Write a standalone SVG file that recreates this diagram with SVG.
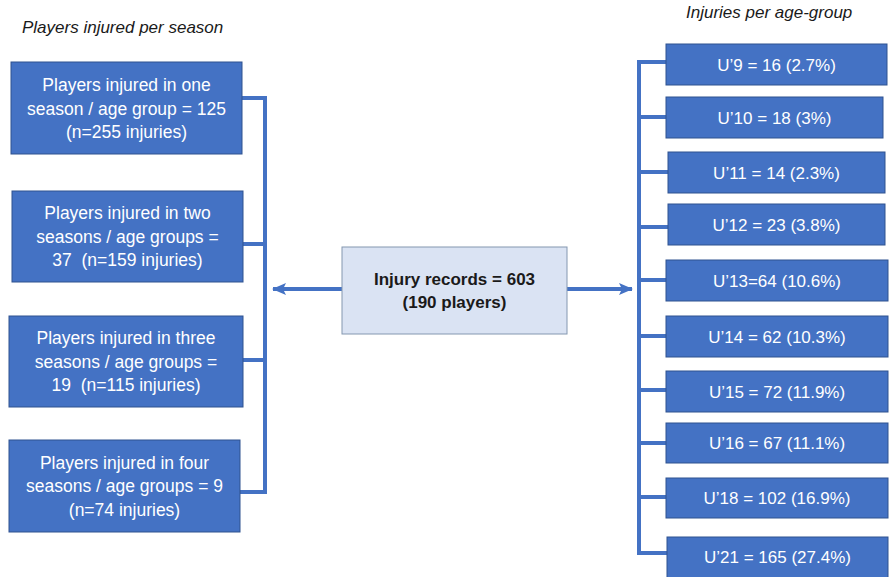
<svg xmlns="http://www.w3.org/2000/svg" width="894" height="577" viewBox="0 0 894 577">
<style>
.box{fill:#4472c4;stroke:#2f528f;stroke-width:1}
.bt{font-family:"Liberation Sans",Arial,sans-serif;font-size:17.5px;fill:#ffffff;text-anchor:middle}
.rt{font-family:"Liberation Sans",Arial,sans-serif;font-size:17px;fill:#ffffff;text-anchor:middle}
.ttl{font-family:"Liberation Sans",Arial,sans-serif;font-size:17px;font-style:italic;fill:#1a1a1a}
.ln{stroke:#4472c4;stroke-width:4;fill:none}
.ct{font-family:"Liberation Sans",Arial,sans-serif;font-size:17px;font-weight:bold;fill:#1a1a1a;text-anchor:middle}
</style>
<defs>
<marker id="ah" markerUnits="userSpaceOnUse" markerWidth="14" markerHeight="14" viewBox="0 0 14 14" refX="13" refY="7" orient="auto">
<path d="M0,1 L14,7 L0,13 L3,7 Z" fill="#4472c4"/>
</marker>
</defs>
<rect width="894" height="577" fill="#ffffff"/>
<text class="ttl" x="22" y="33">Players injured per season</text>
<text class="ttl" x="686" y="18">Injuries per age-group</text>
<g id="connectors">
<polyline class="ln" points="242,98 265,98 265,492 240,492"/>
<line class="ln" x1="243" y1="244" x2="265" y2="244"/>
<line class="ln" x1="243" y1="360" x2="265" y2="360"/>
<polyline class="ln" points="666,62 639,62 639,553 667,553"/>
<line class="ln" x1="639" y1="117" x2="666" y2="117"/>
<line class="ln" x1="639" y1="172" x2="668" y2="172"/>
<line class="ln" x1="639" y1="227" x2="668" y2="227"/>
<line class="ln" x1="639" y1="280" x2="666" y2="280"/>
<line class="ln" x1="639" y1="336" x2="666" y2="336"/>
<line class="ln" x1="639" y1="390" x2="666" y2="390"/>
<line class="ln" x1="639" y1="443" x2="666" y2="443"/>
<line class="ln" x1="639" y1="497" x2="666" y2="497"/>
<line class="ln" x1="342" y1="289" x2="273" y2="289" marker-end="url(#ah)"/>
<line class="ln" x1="567" y1="289" x2="632" y2="289" marker-end="url(#ah)"/>
</g>
<g id="center">
<rect x="342" y="247" width="225" height="87" fill="#dae3f3" stroke="#8497b0" stroke-width="1"/>
<text class="ct" x="454.5" y="285">Injury records = 603</text>
<text class="ct" x="454.5" y="308">(190 players)</text>
</g>
<g id="left1">
<rect class="box" x="11" y="62" width="231" height="92"/>
<text class="bt" x="126.5" y="91">Players injured in one</text>
<text class="bt" x="126.5" y="114.5">season / age group = 125</text>
<text class="bt" x="126.5" y="138">(n=255 injuries)</text>
</g>
<g id="left2">
<rect class="box" x="12" y="191" width="231" height="91"/>
<text class="bt" x="127.5" y="219">Players injured in two</text>
<text class="bt" x="127.5" y="242.5">seasons / age groups =</text>
<text class="bt" x="127.5" y="266">37 &#160;(n=159 injuries)</text>
</g>
<g id="left3">
<rect class="box" x="9" y="316" width="234" height="91"/>
<text class="bt" x="126" y="344">Players injured in three</text>
<text class="bt" x="126" y="367.5">seasons / age groups =</text>
<text class="bt" x="126" y="391">19 &#160;(n=115 injuries)</text>
</g>
<g id="left4">
<rect class="box" x="9" y="440" width="231" height="92"/>
<text class="bt" x="124.5" y="468.5">Players injured in four</text>
<text class="bt" x="124.5" y="492">seasons / age groups = 9</text>
<text class="bt" x="124.5" y="515.5">(n=74 injuries)</text>
</g>
<g id="u9"><rect class="box" x="666" y="44" width="221" height="41"/><text class="rt" x="776.5" y="71">U’9 = 16 (2.7%)</text></g>
<g id="u10"><rect class="box" x="666" y="97" width="217" height="41"/><text class="rt" x="774.5" y="124">U’10 = 18 (3%)</text></g>
<g id="u11"><rect class="box" x="668" y="152" width="217" height="41"/><text class="rt" x="776.5" y="179">U’11 = 14 (2.3%)</text></g>
<g id="u12"><rect class="box" x="668" y="204" width="217" height="41"/><text class="rt" x="776.5" y="231">U’12 = 23 (3.8%)</text></g>
<g id="u13"><rect class="box" x="666" y="260" width="222" height="41"/><text class="rt" x="777" y="287">U’13=64 (10.6%)</text></g>
<g id="u14"><rect class="box" x="666" y="316" width="222" height="41"/><text class="rt" x="777" y="343">U’14 = 62 (10.3%)</text></g>
<g id="u15"><rect class="box" x="666" y="371" width="222" height="41"/><text class="rt" x="777" y="398">U’15 = 72 (11.9%)</text></g>
<g id="u16"><rect class="box" x="666" y="423" width="222" height="40"/><text class="rt" x="777" y="449">U’16 = 67 (11.1%)</text></g>
<g id="u18"><rect class="box" x="666" y="478" width="222" height="40"/><text class="rt" x="777" y="504">U’18 = 102 (16.9%)</text></g>
<g id="u21"><rect class="box" x="667" y="537" width="221" height="42"/><text class="rt" x="777.5" y="563">U’21 = 165 (27.4%)</text></g>
</svg>
